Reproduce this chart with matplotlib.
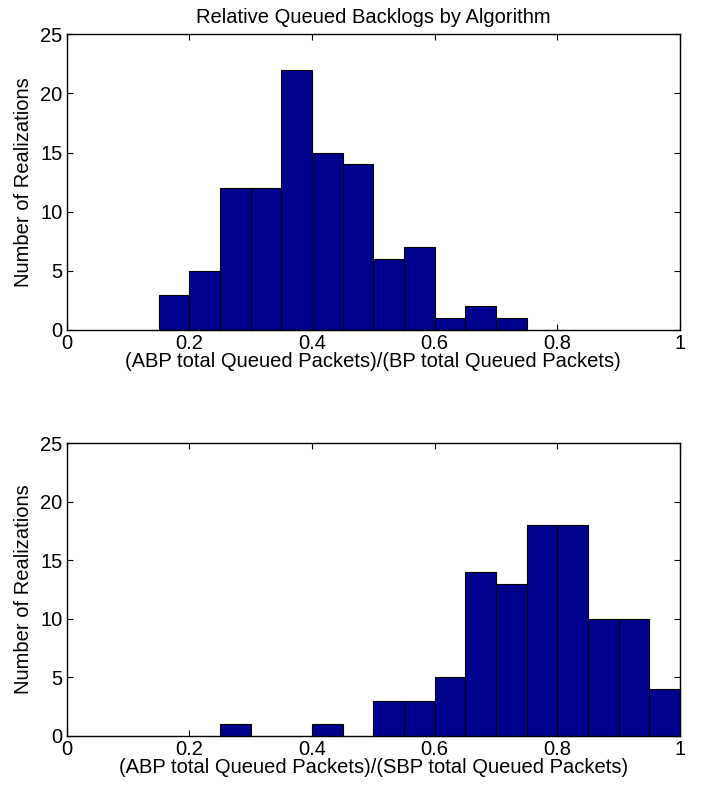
import matplotlib
matplotlib.use("Agg")
import matplotlib.pyplot as plt
import numpy as np

plt.rcParams['font.family'] = ['Liberation Sans', 'DejaVu Sans']

bin_edges = [0.0, 0.05, 0.10, 0.15, 0.20, 0.25, 0.30, 0.35, 0.40, 0.45, 0.50,
             0.55, 0.60, 0.65, 0.70, 0.75, 0.80, 0.85, 0.90, 0.95, 1.00]
counts_bp = [0, 0, 0, 3, 5, 12, 12, 22, 15, 14, 6, 7, 1, 2, 1, 0, 0, 0, 0, 0]
counts_sbp = [0, 0, 0, 0, 0, 1, 0, 0, 1, 0, 3, 3, 5, 14, 13, 18, 18, 10, 10, 4]

title = "Relative Queued Backlogs by Algorithm"
xlabel_top = "(ABP total Queued Packets)/(BP total Queued Packets)"
xlabel_bot = "(ABP total Queued Packets)/(SBP total Queued Packets)"
ylabel = "Number of Realizations"
xticks = [0, 0.2, 0.4, 0.6, 0.8, 1.0]
xticklabels = ["0", "0.2", "0.4", "0.6", "0.8", "1"]
yticks = [0, 5, 10, 15, 20, 25]

FS = 14.5

fig = plt.figure(figsize=(7.02, 7.87), dpi=100)
ax1 = fig.add_axes([0.095, 0.5807, 0.8737, 0.3757])
ax2 = fig.add_axes([0.095, 0.0652, 0.8737, 0.3715])

for ax, counts, xl in [(ax1, counts_bp, xlabel_top), (ax2, counts_sbp, xlabel_bot)]:
    edges = np.array(bin_edges)
    c = np.array(counts)
    mask = c > 0
    ax.bar(edges[:-1][mask], c[mask], width=np.diff(edges)[mask], align='edge',
           color='#00008F', edgecolor='black', linewidth=0.8, zorder=2, clip_on=False)
    ax.set_xlim(0, 1)
    ax.set_ylim(0, 25)
    ax.set_xticks(xticks)
    ax.set_xticklabels(xticklabels)
    ax.set_yticks(yticks)
    ax.tick_params(direction='in', top=True, right=True, length=4.5, width=0.8,
                   labelsize=FS, pad=3)
    for s in ax.spines.values():
        s.set_linewidth(1.0)
        s.set_zorder(3)
    ax.set_xlabel(xl, fontsize=FS, labelpad=-0.5)
    ax.set_ylabel(ylabel, fontsize=FS, labelpad=5)

ax1.set_title(title, fontsize=FS, pad=8)

fig.savefig("out.png", dpi=100)
